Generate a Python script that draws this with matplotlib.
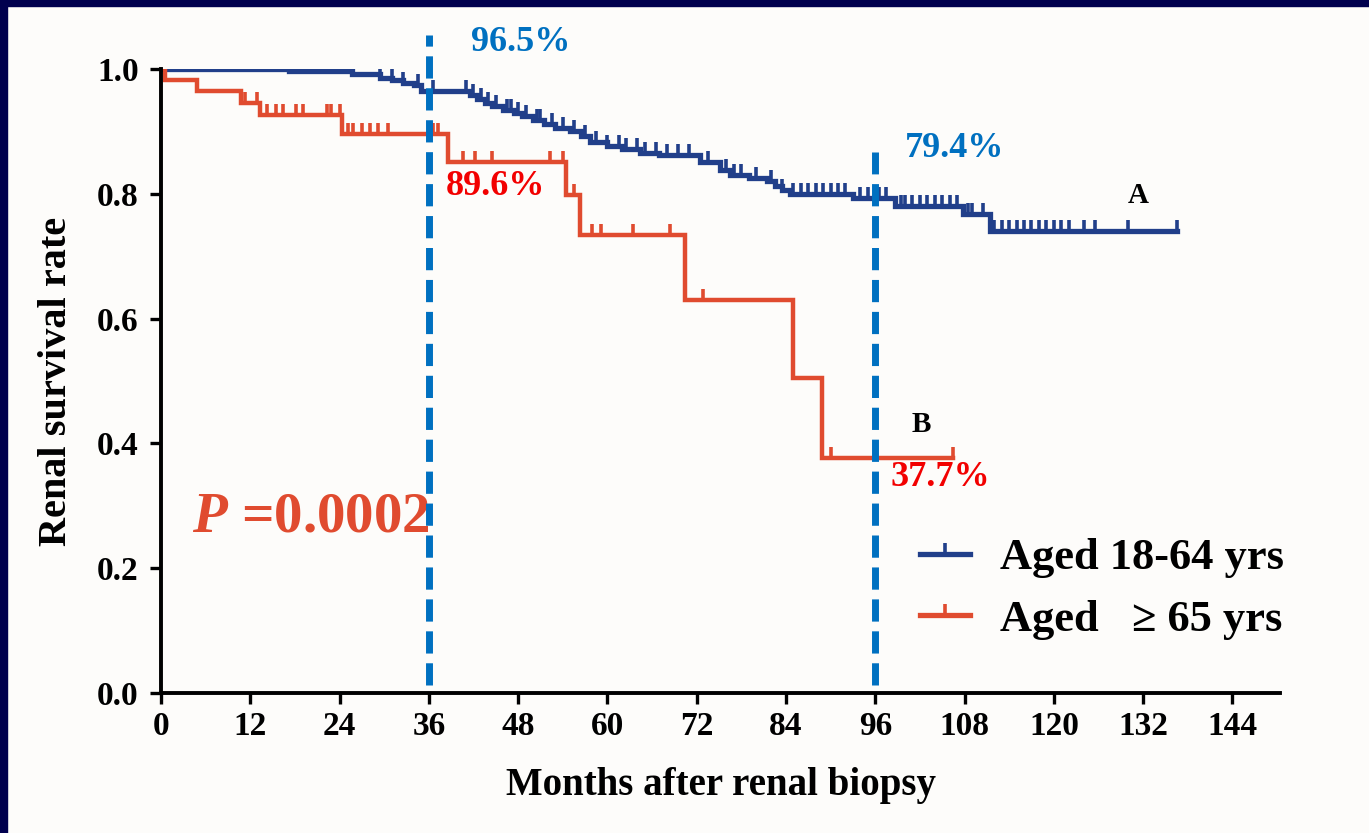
import numpy as np
import matplotlib
matplotlib.use("Agg")
import matplotlib.pyplot as plt
from matplotlib.path import Path
from matplotlib.lines import Line2D
from matplotlib.patches import Rectangle

plt.rcParams['font.family'] = ['Liberation Serif', 'DejaVu Serif']
plt.rcParams['font.weight'] = 'bold'
plt.rcParams['mathtext.fontset'] = 'custom'
plt.rcParams['mathtext.it'] = 'Liberation Serif:italic:bold'
plt.rcParams['mathtext.rm'] = 'Liberation Serif:bold'

# Kaplan-Meier steps, aged 18-64 (event times in months, survival after the step)
young_t = [0, 17.2, 25.7, 29.4, 31.0, 32.5, 34.0, 35.0, 41.5, 42.5, 43.5, 44.5,
           46.0, 47.5, 48.5, 50.0, 51.5, 53.0, 55.0, 56.5, 57.7, 60.0, 62.0,
           64.4, 67.0, 72.4, 75.1, 76.5, 79.0, 81.5, 82.5, 83.5, 84.5, 93.0,
           98.7, 107.8, 111.4]
young_s = [1.0, 0.997, 0.992, 0.986, 0.982, 0.978, 0.974, 0.965, 0.958, 0.952,
           0.946, 0.940, 0.935, 0.930, 0.924, 0.918, 0.912, 0.906, 0.900, 0.893,
           0.883, 0.877, 0.872, 0.866, 0.862, 0.851, 0.838, 0.830, 0.826, 0.820,
           0.812, 0.806, 0.800, 0.794, 0.781, 0.768, 0.740]
young_end = 136.5
young_cens = [17.2, 25.7, 29.5, 31.0, 32.5, 34.5, 36.5, 41.0, 42.0, 43.0, 44.0,
              45.0, 46.5, 47.0, 48.0, 49.0, 50.5, 51.0, 52.5, 54.0, 55.5, 57.0,
              58.5, 60.0, 61.5, 62.5, 64.0, 65.0, 66.5, 68.0, 69.5, 71.0, 73.5,
              76.0, 77.0, 78.0, 80.0, 82.0, 83.5, 85.0, 86.0, 87.0, 88.0, 89.0,
              90.0, 91.0, 92.0, 94.0, 95.0, 96.5, 97.5, 99.5, 100.0, 101.0,
              102.0, 103.0, 104.0, 105.0, 106.0, 107.0, 108.5, 109.0, 110.5,
              112.0, 113.0, 114.0, 115.0, 116.0, 117.0, 118.0, 119.0, 120.0,
              121.0, 122.0, 124.0, 125.5, 130.0, 136.5]

# aged >= 65
old_t = [0, 0.5, 4.8, 10.7, 13.3, 24.3, 38.6, 54.5, 56.3, 70.4, 85.0, 88.8]
old_s = [1.0, 0.983, 0.964, 0.945, 0.926, 0.896, 0.851, 0.798, 0.734, 0.630,
         0.505, 0.377]
old_end = 106.5
old_cens = [11.3, 12.9, 14.2, 15.5, 16.4, 18.2, 19.1, 22.3, 22.9, 24.1, 25.1,
            25.8, 27.0, 28.1, 29.2, 30.5, 36.6, 37.2, 40.6, 42.2, 44.5, 52.3,
            54.0, 55.5, 57.9, 59.2, 63.4, 68.4, 72.9, 90.1, 106.5]

xticks = list(range(0, 145, 12))
yticks = [0.0, 0.2, 0.4, 0.6, 0.8, 1.0]
cut_months = [36, 96]

blue = '#213F8A'
red = '#E04B2F'
pct_blue = '#0070C0'

# censor mark: short vertical stroke rising from the curve
tick = Path([(0, 0), (0, 1)], [Path.MOVETO, Path.LINETO])


def km_line(ax, t, s, t_end, cens, color, lw):
    t = np.array(t + [t_end])
    s = np.array(s + [s[-1]])
    ax.step(t, s, where='post', color=color, lw=lw, solid_joinstyle='miter')
    idx = np.searchsorted(t[:-1], cens, side='right') - 1
    ax.plot(cens, s[idx], ls='none', marker=tick, markersize=16,
            markeredgewidth=2.6, color=color)


fig = plt.figure(figsize=(13.69, 8.33), dpi=100)
fig.patch.set_facecolor('#FDFCFA')
# navy frame on the top and left edges
fig.patches.append(Rectangle((0, 0), 7 / 1369, 1, transform=fig.transFigure,
                             color='#00004E', zorder=0))
fig.patches.append(Rectangle((0, 1 - 6 / 833), 1, 6 / 833,
                             transform=fig.transFigure, color='#00004E', zorder=0))

ax = fig.add_axes([161 / 1369, 1 - 693 / 833, 1119 / 1369, 624 / 833])
ax.set_facecolor('none')

km_line(ax, young_t, young_s, young_end, young_cens, blue, 3.8)
km_line(ax, old_t, old_s, old_end, old_cens, red, 3.2)

# cut-off lines at 3 and 8 years
ax.vlines(cut_months[0], 0.013, 1.055, colors=pct_blue, lw=5,
          linestyles=(0, (3.2, 1.4)), clip_on=False, zorder=5)
ax.vlines(cut_months[1], 0.013, 0.867, colors=pct_blue, lw=5,
          linestyles=(0, (3.2, 1.4)), clip_on=False, zorder=5)

ax.set_xlim(0, 150.4)
ax.set_ylim(0, 1.0)
ax.set_xticks(xticks)
ax.set_yticks(yticks)
ax.set_yticklabels([f'{v:.1f}' for v in yticks])
for side in ['top', 'right']:
    ax.spines[side].set_visible(False)
for side in ['left', 'bottom']:
    ax.spines[side].set_linewidth(2.8)
ax.tick_params(direction='out', length=8, width=2.4, labelsize=24)
ax.tick_params(axis='x', pad=5)
ax.tick_params(axis='y', pad=8)
for lab in ax.get_xticklabels() + ax.get_yticklabels():
    lab.set_fontweight('bold')

ax.set_xlabel('Months after renal biopsy', fontsize=28, fontweight='bold',
              labelpad=18)
ax.set_ylabel('Renal survival rate', fontsize=29, fontweight='bold',
              labelpad=16)

ax.text(48.3, 1.043, '96.5%', color=pct_blue, fontsize=26, ha='center',
        va='center', fontweight='bold')
ax.text(106.7, 0.873, '79.4%', color=pct_blue, fontsize=26, ha='center',
        va='center', fontweight='bold')
ax.text(45.0, 0.811, '89.6%', color='#F20000', fontsize=26, ha='center',
        va='center', fontweight='bold')
ax.text(104.8, 0.345, '37.7%', color='#F20000', fontsize=26, ha='center',
        va='center', fontweight='bold')
ax.text(4.2, 0.282, r'$P$ =0.0002', color=red, fontsize=41, ha='left',
        va='center', fontweight='bold')
ax.text(131.3, 0.798, 'A', fontsize=21, ha='center', va='center',
        fontweight='bold')
ax.text(102.2, 0.431, 'B', fontsize=21, ha='center', va='center',
        fontweight='bold')

handles = [Line2D([0], [0], color=blue, lw=3.8, marker=tick, markersize=16,
                  markeredgewidth=2.6),
           Line2D([0], [0], color=red, lw=3.8, marker=tick, markersize=16,
                  markeredgewidth=2.6)]
fig.legend(handles, ['Aged 18-64 yrs', 'Aged   \u2265 65 yrs'],
           loc='upper left', bbox_to_anchor=(920 / 1369, 1 - 538 / 833),
           frameon=False, borderpad=0, borderaxespad=0, handlelength=1.12,
           handletextpad=0.68, labelspacing=0.48, numpoints=1,
           prop={'size': 32, 'weight': 'bold'})

fig.savefig('out.png', dpi=100, facecolor=fig.get_facecolor())
